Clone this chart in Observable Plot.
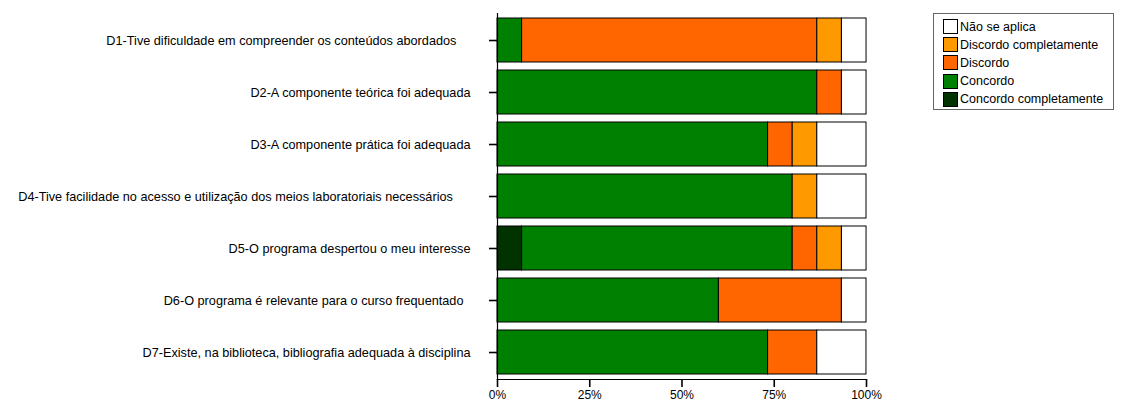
<!DOCTYPE html>
<html>
<head>
<meta charset="utf-8">
<script src="https://cdn.jsdelivr.net/npm/d3@7"></script>
<script src="https://cdn.jsdelivr.net/npm/@observablehq/plot@0.6"></script>
<style>
  html, body { margin: 0; padding: 0; background: #fff; }
  #wrap { position: relative; width: 1123px; height: 405px; font-family: "Liberation Sans", Arial, sans-serif; }
  #legend { position: absolute; left: 933px; top: 13px; width: 181px; height: 97px; border: 1px solid #666; box-sizing: border-box; }
  .item { position: absolute; left: 9px; height: 15px; display: flex; align-items: center; font-size: 12.5px; color: #000; white-space: nowrap; }
  .sw { width: 13px; height: 13px; border: 1px solid #000; margin-right: 2px; flex: none; }
</style>
</head>
<body>
<div id="wrap"></div>
<script>
// Questions (trailing non-breaking spaces as in the original labels)
const questions = [
  "D1-Tive dificuldade em compreender os conteúdos abordados\u00a0\u00a0\u00a0\u00a0",
  "D2-A componente teórica foi adequada",
  "D3-A componente prática foi adequada",
  "D4-Tive facilidade no acesso e utilização dos meios laboratoriais necessários\u00a0\u00a0\u00a0\u00a0\u00a0",
  "D5-O programa despertou o meu interesse",
  "D6-O programa é relevante para o curso frequentado\u00a0\u00a0",
  "D7-Existe, na biblioteca, bibliografia adequada à disciplina"
];
// Response categories in stacking order (left to right)
const categories = ["Concordo completamente", "Concordo", "Discordo", "Discordo completamente", "Não se aplica"];
const colors = ["#003300", "#008000", "#FF6600", "#FF9900", "#FFFFFF"];
// Percentages per category, one value per question (D1..D7)
const concordoCompletamente = [0, 0, 0, 0, 6.67, 0, 0];
const concordo              = [6.67, 86.67, 73.33, 80, 73.33, 60, 73.33];
const discordo              = [80, 6.67, 6.67, 0, 6.67, 33.33, 13.33];
const discordoCompletamente = [6.67, 0, 6.67, 6.67, 6.67, 0, 0];
const naoSeAplica           = [6.67, 6.67, 13.33, 13.33, 6.67, 6.67, 13.33];
const xTicks = [0, 25, 50, 75, 100];
const legendOrder = ["Não se aplica", "Discordo completamente", "Discordo", "Concordo", "Concordo completamente"];

const series = [concordoCompletamente, concordo, discordo, discordoCompletamente, naoSeAplica];
const data = [];
questions.forEach((q, i) => {
  categories.forEach((c, j) => {
    data.push({question: q, category: c, value: series[j][i]});
  });
});

const chart = Plot.plot({
  width: 1123,
  height: 405,
  marginLeft: 497,
  marginRight: 257,
  marginTop: 13,
  marginBottom: 26,
  style: {fontFamily: "'Liberation Sans', Arial, sans-serif", fontSize: "12px", color: "#000", background: "#fff"},
  x: {domain: [0, 100], ticks: xTicks, tickFormat: d => d + "%", label: null},
  y: {domain: questions, paddingInner: 0.147, paddingOuter: 0.038, label: null},
  color: {domain: categories, range: colors},
  marks: [
    Plot.barX(data.filter(d => d.value > 0), Plot.stackX({
      x: "value", y: "question", fill: "category", order: categories,
      stroke: "#000", strokeWidth: 1
    })),
    Plot.axisY({tickSize: 8, tickPadding: 19, strokeWidth: 1.6, label: null, fontSize: 12.7}),
    Plot.axisX({ticks: xTicks, tickFormat: d => d + "%", tickSize: 8, tickPadding: 3, strokeWidth: 1.6, label: null, fontSize: 12}),
    Plot.frame({anchor: "bottom", stroke: "#000", strokeWidth: 1.2}),
    Plot.frame({anchor: "left", stroke: "#000", strokeWidth: 1.2})
  ]
});

const wrap = document.getElementById("wrap");
wrap.appendChild(chart);

const legend = document.createElement("div");
legend.id = "legend";
legendOrder.forEach((c, k) => {
  const item = document.createElement("div");
  item.className = "item";
  item.style.top = (5 + k * 18.2) + "px";
  const sw = document.createElement("span");
  sw.className = "sw";
  sw.style.background = colors[categories.indexOf(c)];
  const t = document.createElement("span");
  t.textContent = c;
  item.appendChild(sw);
  item.appendChild(t);
  legend.appendChild(item);
});
wrap.appendChild(legend);
</script>
</body>
</html>
